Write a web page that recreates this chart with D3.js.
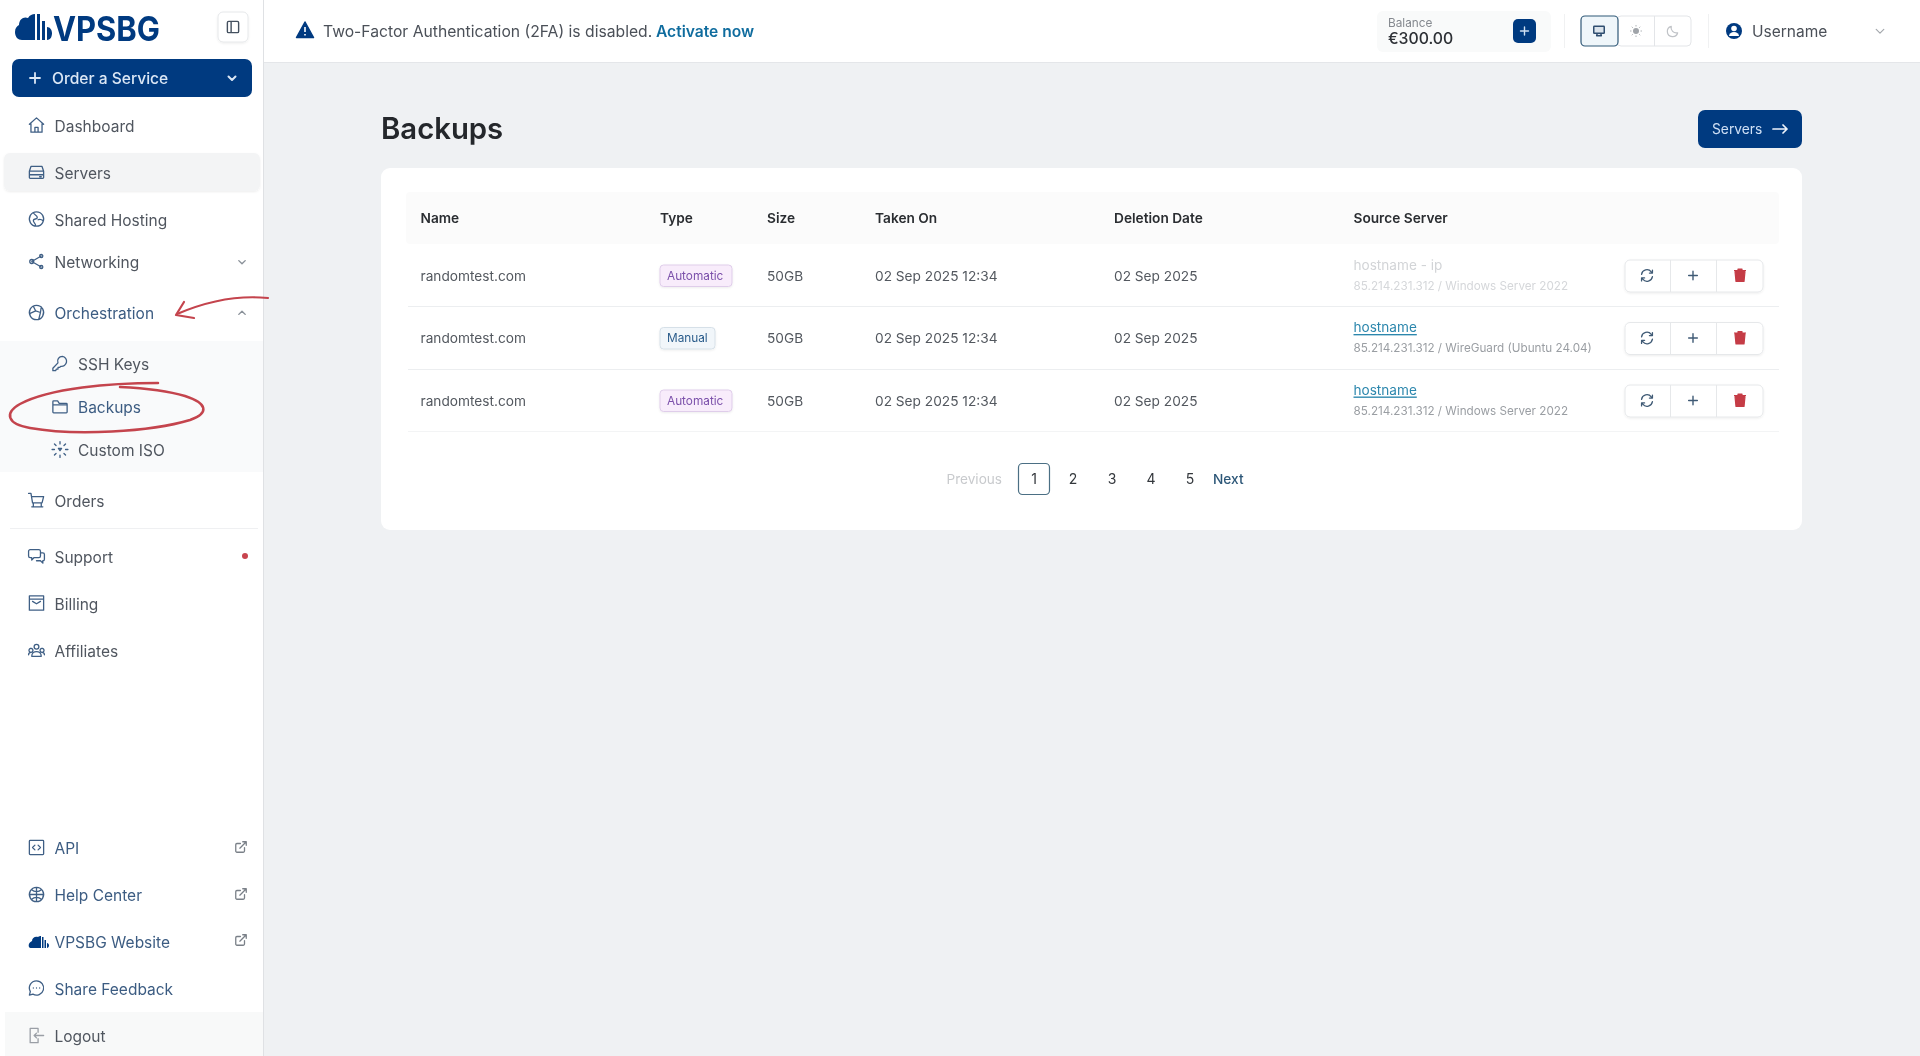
<!DOCTYPE html>
<html><head><meta charset="utf-8">
<script src="https://cdn.jsdelivr.net/npm/d3@7"></script>
<style>
html,body{margin:0;padding:0;background:#eff1f3;overflow:hidden}
svg{display:block;filter:blur(.35px)}
text{font-family:Inter,"Noto Sans",sans-serif}
</style></head><body>
<svg id="app" width="1920" height="1056"></svg>
<script>
// ---- content -----------------------------------------------------------
const navLabels = ["Dashboard","Servers","Shared Hosting","Networking","Orchestration","SSH Keys","Backups","Custom ISO","Orders","Support","Billing","Affiliates","API","Help Center","VPSBG Website","Share Feedback","Logout"];
const navIconNames = ["home","server","globe","share","orbit","key","folder","iso","cart","chat","mail","users","code","ball","cloud","bubble","logout"];
const columns = ["Name","Type","Size","Taken On","Deletion Date","Source Server"];
const backupNames = ["randomtest.com","randomtest.com","randomtest.com"];
const backupTypes = ["Automatic","Manual","Automatic"];
const backupSizes = ["50GB","50GB","50GB"];
const takenOn = ["02 Sep 2025 12:34","02 Sep 2025 12:34","02 Sep 2025 12:34"];
const deletionDates = ["02 Sep 2025","02 Sep 2025","02 Sep 2025"];
const sourceHosts = ["hostname - ip","hostname","hostname"];
const sourceDetails = ["85.214.231.312 / Windows Server 2022","85.214.231.312 / WireGuard (Ubuntu 24.04)","85.214.231.312 / Windows Server 2022"];
const pageLabels = ["1","2","3","4","5"];

// ---- layout ------------------------------------------------------------
const navLayout = {
  "Dashboard":[54.500,126],"Servers":[54.500,173],"Shared Hosting":[54.500,220],"Networking":[54.500,262.500],"Orchestration":[54.500,313.500],
  "SSH Keys":[78,364.500],"Backups":[78,407.500],"Custom ISO":[78,450.500],"Orders":[54.500,501.500],"Support":[54.500,557],"Billing":[54.500,604],
  "Affiliates":[54.500,651],"API":[54.500,848.500],"Help Center":[54.500,895.500],"VPSBG Website":[54.500,942],"Share Feedback":[54.500,989],"Logout":[54.500,1036.500]};
const blueNav = new Set(["Orchestration","Backups","API","Help Center","VPSBG Website","Share Feedback"]);
const xCol = d3.scaleOrdinal(columns,[420.500,660,767,875,1114,1353.500]);
const yRow = d3.scalePoint().domain(d3.range(backupNames.length)).range([275.500,400.500]);
const xPage = d3.scalePoint().domain(pageLabels).range([1034,1190]);

const ICONS = {
 home:"M3 11 12 3l9 8M5 10v11h14V10M10 21v-6h4v6",
 server:"M5 5h14l2 6v8a1 1 0 0 1-1 1H4a1 1 0 0 1-1-1v-8zM3 11h18M3 15.5h18M16 18h2",
 globe:"M12 3a9 9 0 1 0 .01 0zM8 4c1 3 5 3 5 6s-5 1-5 4 3 3 3 7M14 13c2-1 5 0 6 1",
 share:"M6 12l12-7M6 12l12 7M6 12m-2.5 0a2.5 2.5 0 1 0 5 0a2.5 2.5 0 1 0-5 0M18 5m-2 0a2 2 0 1 0 4 0a2 2 0 1 0-4 0M18 19m-2 0a2 2 0 1 0 4 0a2 2 0 1 0-4 0",
 orbit:"M12 3a9 9 0 1 0 .01 0zM8 4l3 6-7 3M11 10l6 2 1-7M17 12l-2 8",
 key:"M15 3a6 6 0 0 0-5.6 8.2L3 18v3h3.500l1-2h2v-2h2l1.300-1.400A6 6 0 1 0 15 3z",
 folder:"M3 6a1 1 0 0 1 1-1h5l2 3h9a1 1 0 0 1 1 1v10a1 1 0 0 1-1 1H4a1 1 0 0 1-1-1zM3 10h18",
 iso:"M12 2v3M12 19v3M2 12h3M19 12h3M5 5l2 2M17 17l2 2M5 19l2-2M17 7l2-2M10 10.500h4l-2 3z",
 cart:"M2 3h3l2 12h12l2-8H6M8 15v5M18 15v5M6 20h14",
 chat:"M4 4h11a2 2 0 0 1 2 2v6a2 2 0 0 1-2 2H9l-3 3v-3H4a2 2 0 0 1-2-2V6a2 2 0 0 1 2-2zM18 8h2a2 2 0 0 1 2 2v6a2 2 0 0 1-2 2v3l-3-3h-5",
 mail:"M3 3h18v18H3zM3 7h18M7 10l5 3 5-3",
 users:"M12 8m-3 0a3 3 0 1 0 6 0a3 3 0 1 0-6 0M5 10a2.500 2.500 0 1 0 .01 0M19 10a2.500 2.500 0 1 0 .01 0M6 20c0-4 3-6 6-6s6 2 6 6zM2 18c0-2 1-3 3-3M22 18c0-2-1-3-3-3",
 code:"M4 3h16a1 1 0 0 1 1 1v16a1 1 0 0 1-1 1H4a1 1 0 0 1-1-1V4a1 1 0 0 1 1-1zM10 9l-3 3 3 3M14 9l3 3-3 3",
 ball:"M12 3a9 9 0 1 0 .01 0zM12 3v18M3 12h18M6 6c3 3 9 3 12 0M6 18c3-3 9-3 12 0",
 bubble:"M12 3a9 9 0 1 1-4.500 16.800L3 21l1.200-4.500A9 9 0 0 1 12 3zM8 12h.01M12 12h.01M16 12h.01",
 logout:"M14 8V3H4v18h10v-5M21 12H9M12 9l-3 3 3 3",
 ext:"M18 13v6a2 2 0 0 1-2 2H5a2 2 0 0 1-2-2V8a2 2 0 0 1 2-2h6M15 3h6v6M10 14 21 3",
 refresh:"M3 10a9 9 0 0 1 16-4l2 2M21 3v5h-5M21 14a9 9 0 0 1-16 4l-2-2M3 21v-5h5",
 plus:"M12 4v16M4 12h16",
 monitor:"M4 4h16a1 1 0 0 1 1 1v10a1 1 0 0 1-1 1H4a1 1 0 0 1-1-1V5a1 1 0 0 1 1-1zM8 20h8l-1-4H9z",
 moon:"M20 15A9 9 0 0 1 9 4a9 9 0 1 0 11 11z",
 chevDown:"M5 9l7 7 7-7", chevUp:"M5 15l7-7 7 7", panel:"M5 3h14a2 2 0 0 1 2 2v14a2 2 0 0 1-2 2H5a2 2 0 0 1-2-2V5a2 2 0 0 1 2-2zM9 3v18"
};

const svg = d3.select("#app");
const rect=(p,x,y,w,h,o={})=>{const r=p.append("rect").attr("x",x).attr("y",y).attr("width",w).attr("height",h).attr("rx",o.r||0)
  .attr("fill",o.fill||"none"); if(o.stroke) r.attr("stroke",o.stroke).attr("stroke-width",o.sw||1); if(o.filter) r.attr("filter",o.filter); return r;};
const txt=(p,s,x,y,size,fill,w=400,anchor="start")=>p.append("text").text(s).attr("x",x).attr("y",y).attr("font-size",size).attr("fill",fill)
  .attr("font-weight",w).attr("text-anchor",anchor).attr("dominant-baseline","central");
const icon=(p,name,cx,cy,size,color,sw=1.7,fill="none")=>p.append("path").attr("d",ICONS[name])
  .attr("transform",`translate(${cx-size/2},${cy-size/2}) scale(${size/24})`)
  .attr("fill",fill).attr("stroke",color).attr("stroke-width",sw*24/size).attr("stroke-linecap","round").attr("stroke-linejoin","round");
const line=(p,x1,y1,x2,y2,c,sw=1)=>p.append("line").attr("x1",x1).attr("y1",y1).attr("x2",x2).attr("y2",y2).attr("stroke",c).attr("stroke-width",sw);

const defs = svg.append("defs");
const sh = defs.append("filter").attr("id","soft").attr("x","-10%").attr("y","-20%").attr("width","120%").attr("height","150%");
sh.append("feDropShadow").attr("dx",0).attr("dy",1).attr("stdDeviation",1.2).attr("flood-color","#000").attr("flood-opacity",.07);

// page background
rect(svg,0,0,1920,1056,{fill:"#eff1f3"});
// top bar
rect(svg,263,0,1657,62,{fill:"#fff"});
line(svg,263,62.500,1920,62.500,"#e4e6e9");
// sidebar
rect(svg,0,0,263,1056,{fill:"#fff"});
line(svg,263.500,0,263.500,1056,"#dfe1e4");
const side = svg.append("g");

// logo
const NAVY="#003a80";
side.append("path").attr("d","M15 33c0-4 2-6 4-7 0-6 5-9 9-7 2-3 4-4 7-4v26H22c-4 0-7-3-7-8zM37 15h3v26h-3zM42 22h3v19h-3zM47 28c3 0 5 3 5 6s-1 7-5 7z").attr("fill",NAVY).attr("transform","translate(0,-1)");
txt(side,"VPSBG",53,28,34,NAVY,700).attr("textLength",107).attr("lengthAdjust","spacingAndGlyphs");
rect(side,218,12,30,30,{fill:"#fff",stroke:"#e6e8ea",r:5,filter:"url(#soft)"});
icon(side,"panel",233,27,15,"#44505f",1.4);

// order button
rect(side,12,59,240,38,{fill:NAVY,r:7});
icon(side,"plus",35,78,15,"#dbe7f5",1.8);
txt(side,"Order a Service",52,78,15.6,"#dbe7f5",500);
icon(side,"chevDown",232,78,12,"#dbe7f5",2);

// sidebar highlights
rect(side,4,153,256,38,{fill:"#f3f4f5",r:6,filter:"url(#soft)"});
rect(side,0,341,263,131,{fill:"#f9fafb"});
rect(side,5,1012,258,44,{fill:"#f8f9f9"});
line(side,10,528.500,258,528.500,"#eff0f2");

// nav items
const navG = side.selectAll("g.nav").data(navLabels).join("g").attr("class","nav");
navG.each(function(d,i){
  const g=d3.select(this), [x,y]=navLayout[d];
  const col=blueNav.has(d)?"#3c5c82":"#50565f";
  const ix=x-18, nm=navIconNames[i];
  if(nm==="cloud"){
    g.append("path").attr("d","M29 948c-1-3 1-5 3-6 0-3 3-5 6-4 1-1 2-1 3-1v12h-7c-3 0-5 0-5-1zM42 938h1.500v11H42zM44.500 941h1.500v8h-1.500zM47 944c1 0 2 1 2 2.500s-1 2.500-2 2.500z").attr("fill",NAVY).attr("transform","translate(0,-1)");
  } else {
    icon(g,nm,ix,y-1,19,nm==="logout"?"#9a9fa6":"#3f5f85",1.3);
  }
  txt(g,d,x,y,15.5,col,400);
});
icon(side,"chevDown",242,262,11,"#8a9199",1.4);
icon(side,"chevUp",242,313,11,"#8a9199",1.4);
side.append("circle").attr("cx",245).attr("cy",556).attr("r",3).attr("fill","#c8444e");
[849,896,942].forEach(y=>icon(side,"ext",241,y-2,14,"#7a8088",1.3));

// top bar content
const top_=svg.append("g");
top_.append("path").attr("d","M305 22l8.500 15.500h-17z").attr("fill",NAVY).attr("stroke",NAVY).attr("stroke-width",1.500).attr("stroke-linejoin","round");
line(top_,305,27,305,32,"#fff",1.6); line(top_,305,34,305,35.500,"#fff",1.6);
txt(top_,"Two-Factor Authentication (2FA) is disabled.",323,31.500,15.7,"#4b5058",400);
txt(top_,"Activate now",656,31.500,15.6,"#0f6c9e",600);
rect(top_,1377,11,174,41,{fill:"#f9fafa",r:6});
txt(top_,"Balance",1388,22.500,11.8,"#85898f");
txt(top_,"€300.00",1388,38,15.8,"#2d3035",500);
rect(top_,1513,19,23,24,{fill:NAVY,r:5});
icon(top_,"plus",1524.500,31,12,"#cfe0f2",1.4);
line(top_,1564.500,14,1564.500,48,"#f0f1f2"); line(top_,1708.500,14,1708.500,48,"#f0f1f2");
rect(top_,1617,16,74,30,{fill:"#fff",stroke:"#e3e5e8",r:4});
line(top_,1654.500,16,1654.500,46,"#e3e5e8");
rect(top_,1581,16,37,30,{fill:"#eff6fa",stroke:"#2f5877",r:4,sw:1.2});
icon(top_,"monitor",1599,31,14,"#2f4e70",1.5,"#dbe4ec");
top_.append("circle").attr("cx",1636).attr("cy",31).attr("r",3).attr("fill","#a0a4a9");
d3.range(8).forEach(i=>{const a=i*Math.PI/4;line(top_,1636+4.500*Math.cos(a),31+4.500*Math.sin(a),1636+6*Math.cos(a),31+6*Math.sin(a),"#b0b4b8",1);});
icon(top_,"moon",1673,31,14,"#c0c3c7",1.2);
top_.append("circle").attr("cx",1734).attr("cy",31).attr("r",8).attr("fill",NAVY);
top_.append("circle").attr("cx",1734).attr("cy",28.500).attr("r",2.800).attr("fill","#fff");
top_.append("path").attr("d","M1729 36a5 4 0 0 1 10 0z").attr("fill","#fff");
txt(top_,"Username",1752,31.500,15.5,"#4b5058");
icon(top_,"chevDown",1880,31,13,"#a4a8ad",1.2);

// title row
txt(svg,"Backups",381,128.500,29.3,"#24272b",600);
rect(svg,1698,110,104,38,{fill:NAVY,r:7});
txt(svg,"Servers",1712,128.500,13.8,"#cfe0f5",400);
svg.append("path").attr("d","M1773 129h14M1783 125l4 4-4 4").attr("fill","none").attr("stroke","#eef4fb").attr("stroke-width",1.700).attr("stroke-linecap","round").attr("stroke-linejoin","round");

// card
const card=svg.append("g");
rect(card,381,168,1421,362,{fill:"#fff",r:9});
rect(card,406,192,1373,52,{fill:"#fbfbfb",r:4});
card.selectAll("text.col").data(columns).join("text").attr("class","col")
  .text(d=>d).attr("x",d=>xCol(d)).attr("y",217.500).attr("font-size",13.7).attr("font-weight",600).attr("fill","#2a2d31").attr("dominant-baseline","central");

// rows
const seps=[306.500,369.500,431.500];
const badgeStyle={Automatic:{w:72,fill:"#f8ecfb",stroke:"#dfcdea",col:"#7c51ab"},Manual:{w:55,fill:"#f1f6fa",stroke:"#d6e0e8",col:"#2b5d8c"}};
const rows=card.selectAll("g.row").data(d3.range(backupNames.length)).join("g").attr("class","row");
rows.each(function(i){
  const g=d3.select(this), y=yRow(i), c="#53585f";
  line(g,408,seps[i],1779,seps[i],i==2?"#f3f4f5":"#eceef0");
  txt(g,backupNames[i],xCol("Name"),y,13.7,c);
  const t=backupTypes[i],b=badgeStyle[t];
  rect(g,660,y-10.500,b.w,21.500,{fill:b.fill,stroke:b.stroke,r:3.500,filter:"url(#soft)"});
  txt(g,t,667,y,11.8,b.col,400);
  txt(g,backupSizes[i],xCol("Size"),y,13.7,c);
  txt(g,takenOn[i],xCol("Taken On"),y,13.7,c);
  txt(g,deletionDates[i],xCol("Deletion Date"),y,13.7,c);
  const faint=i===0;
  const h=txt(g,sourceHosts[i],xCol("Source Server"),y-11,13.6,faint?"#d2d4d7":"#2c87ad");
  if(!faint) h.attr("text-decoration","underline");
  txt(g,sourceDetails[i],xCol("Source Server"),y+10,11.7,faint?"#d5d7da":"#9a9ea3");
  // actions
  rect(g,1625,y-15.500,138,32,{fill:"#fff",stroke:"#e6e8ea",r:5,filter:"url(#soft)"});
  line(g,1670.500,y-15.500,1670.500,y+16.500,"#e6e8ea"); line(g,1716.500,y-15.500,1716.500,y+16.500,"#e6e8ea");
  icon(g,"refresh",1647,y,14.5,"#3f5a75",1.3);
  icon(g,"plus",1693,y,13,"#3f5a75",1.4);
  g.append("path").attr("d",`M${1735} ${y-4}h10l-1 10h-8zM${1734} ${y-5}h12M${1738} ${y-5}v-1.500h4v1.500`).attr("fill","#c53c46").attr("stroke","#c53c46").attr("stroke-width",1.200).attr("stroke-linejoin","round");
});

// pagination
txt(card,"Previous",1002,478.500,13.6,"#c8cacd",400,"end");
rect(card,1018.500,463.500,31,31,{fill:"#fff",stroke:"#4b6f84",r:4,sw:1.2});
card.selectAll("text.pg").data(pageLabels).join("text").attr("class","pg").text(d=>d)
  .attr("x",d=>xPage(d)).attr("y",478.500).attr("font-size",14).attr("text-anchor","middle").attr("fill","#33373c").attr("dominant-baseline","central");
txt(card,"Next",1213,478.500,13.7,"#2d5778",500);

// red annotation
const ann=svg.append("g").attr("fill","none").attr("stroke","#c4444d").attr("stroke-width",2.200).attr("stroke-linecap","round").attr("stroke-linejoin","round");
ann.append("path").attr("d","M268 298C238 295 205 302 177 314");
ann.append("path").attr("d","M184 302L176 315L194 318");
ann.append("path").attr("d","M158 383C110 383 50 388 20 404C4 413 7 424 30 428C75 436 150 432 190 420C210 413 207 403 185 396C165 390 140 388 120 387").attr("stroke-width",2.500);
</script>
</body></html>
